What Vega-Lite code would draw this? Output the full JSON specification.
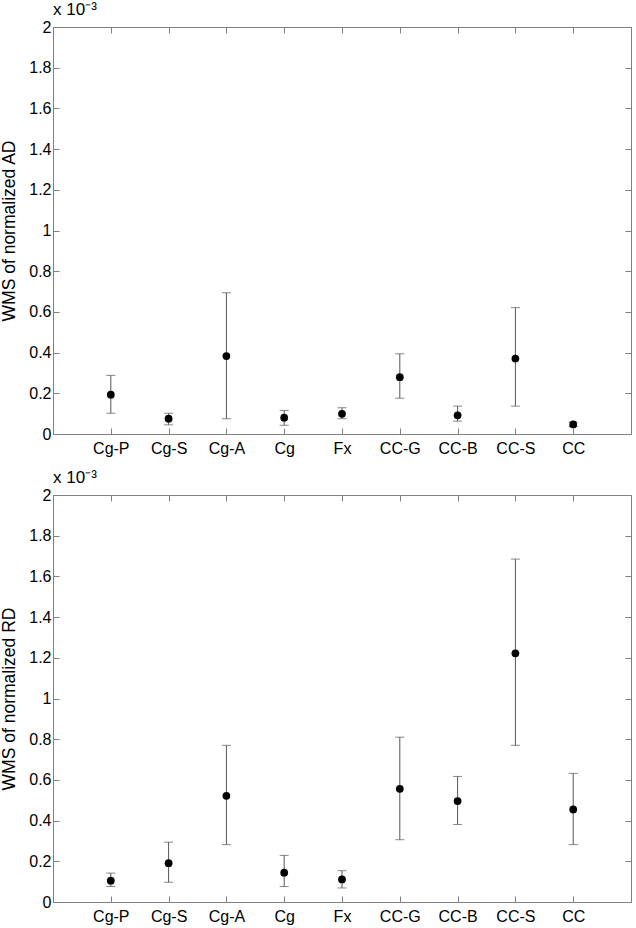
{
  "$schema": "https://vega.github.io/schema/vega-lite/v6.json",
  "background": "white",
  "padding": {"left": 0, "top": 0, "right": 2, "bottom": 2},
  "datasets": {
    "ad": [
      {"group": "Cg-P", "mean": 0.193, "lo": 0.102, "hi": 0.288},
      {"group": "Cg-S", "mean": 0.075, "lo": 0.045, "hi": 0.102},
      {"group": "Cg-A", "mean": 0.383, "lo": 0.075, "hi": 0.694},
      {"group": "Cg", "mean": 0.080, "lo": 0.043, "hi": 0.116},
      {"group": "Fx", "mean": 0.099, "lo": 0.075, "hi": 0.129},
      {"group": "CC-G", "mean": 0.279, "lo": 0.176, "hi": 0.394},
      {"group": "CC-B", "mean": 0.092, "lo": 0.063, "hi": 0.137},
      {"group": "CC-S", "mean": 0.371, "lo": 0.137, "hi": 0.621},
      {"group": "CC", "mean": 0.047, "lo": 0.037, "hi": 0.058}
    ],
    "rd": [
      {"group": "Cg-P", "mean": 0.105, "lo": 0.076, "hi": 0.142},
      {"group": "Cg-S", "mean": 0.191, "lo": 0.097, "hi": 0.294},
      {"group": "Cg-A", "mean": 0.522, "lo": 0.282, "hi": 0.770},
      {"group": "Cg", "mean": 0.144, "lo": 0.076, "hi": 0.229},
      {"group": "Fx", "mean": 0.111, "lo": 0.069, "hi": 0.154},
      {"group": "CC-G", "mean": 0.556, "lo": 0.306, "hi": 0.810},
      {"group": "CC-B", "mean": 0.496, "lo": 0.381, "hi": 0.617},
      {"group": "CC-S", "mean": 1.222, "lo": 0.770, "hi": 1.685},
      {"group": "CC", "mean": 0.455, "lo": 0.282, "hi": 0.632}
    ]
  },
  "vconcat": [
    {
      "width": 578, "height": 407,
      "data": {"name": "ad"},
      "title": {"text": "x 10⁻³", "anchor": "start", "frame": "group", "offset": 0},
      "layer": [
        {
          "mark": {"type": "rule", "color": "#555", "strokeWidth": 1},
          "encoding": {
            "x": {"field": "group", "type": "nominal", "sort": null, "scale": {"type": "point", "padding": 1},
                  "axis": {"orient": "bottom", "title": null, "labelAngle": 0, "tickSize": -6, "labelPadding": 12}},
            "y": {"field": "lo", "type": "quantitative", "scale": {"domain": [0, 2], "nice": false},
                  "axis": {"orient": "left", "title": "WMS of normalized AD", "values": [0, 0.2, 0.4, 0.6, 0.8, 1, 1.2, 1.4, 1.6, 1.8, 2], "format": "~g", "tickSize": -6, "labelPadding": 8, "titlePadding": 10}},
            "y2": {"field": "hi"}
          }
        },
        {
          "mark": {"type": "tick", "orient": "horizontal", "size": 9, "thickness": 1, "color": "#555"},
          "encoding": {
            "x": {"field": "group", "type": "nominal", "sort": null, "axis": null},
            "y": {"field": "lo", "type": "quantitative", "axis": null}
          }
        },
        {
          "mark": {"type": "tick", "orient": "horizontal", "size": 9, "thickness": 1, "color": "#555"},
          "encoding": {
            "x": {"field": "group", "type": "nominal", "sort": null, "axis": null},
            "y": {"field": "hi", "type": "quantitative", "axis": null}
          }
        },
        {
          "mark": {"type": "point", "filled": true, "size": 60, "color": "black", "opacity": 1},
          "encoding": {
            "x": {"field": "group", "type": "nominal", "sort": null,
                  "axis": {"orient": "top", "title": null, "labels": false, "domain": false, "tickSize": -6}},
            "y": {"field": "mean", "type": "quantitative",
                  "axis": {"orient": "right", "title": null, "labels": false, "domain": false, "tickSize": -6, "values": [0, 0.2, 0.4, 0.6, 0.8, 1, 1.2, 1.4, 1.6, 1.8, 2]}}
          }
        }
      ],
      "resolve": {"axis": {"x": "independent", "y": "independent"}}
    },
    {
      "width": 578, "height": 407,
      "data": {"name": "rd"},
      "title": {"text": "x 10⁻³", "anchor": "start", "frame": "group", "offset": 0},
      "layer": [
        {
          "mark": {"type": "rule", "color": "#555", "strokeWidth": 1},
          "encoding": {
            "x": {"field": "group", "type": "nominal", "sort": null, "scale": {"type": "point", "padding": 1},
                  "axis": {"orient": "bottom", "title": null, "labelAngle": 0, "tickSize": -6, "labelPadding": 12}},
            "y": {"field": "lo", "type": "quantitative", "scale": {"domain": [0, 2], "nice": false},
                  "axis": {"orient": "left", "title": "WMS of normalized RD", "values": [0, 0.2, 0.4, 0.6, 0.8, 1, 1.2, 1.4, 1.6, 1.8, 2], "format": "~g", "tickSize": -6, "labelPadding": 8, "titlePadding": 10}},
            "y2": {"field": "hi"}
          }
        },
        {
          "mark": {"type": "tick", "orient": "horizontal", "size": 9, "thickness": 1, "color": "#555"},
          "encoding": {
            "x": {"field": "group", "type": "nominal", "sort": null, "axis": null},
            "y": {"field": "lo", "type": "quantitative", "axis": null}
          }
        },
        {
          "mark": {"type": "tick", "orient": "horizontal", "size": 9, "thickness": 1, "color": "#555"},
          "encoding": {
            "x": {"field": "group", "type": "nominal", "sort": null, "axis": null},
            "y": {"field": "hi", "type": "quantitative", "axis": null}
          }
        },
        {
          "mark": {"type": "point", "filled": true, "size": 60, "color": "black", "opacity": 1},
          "encoding": {
            "x": {"field": "group", "type": "nominal", "sort": null,
                  "axis": {"orient": "top", "title": null, "labels": false, "domain": false, "tickSize": -6}},
            "y": {"field": "mean", "type": "quantitative",
                  "axis": {"orient": "right", "title": null, "labels": false, "domain": false, "tickSize": -6, "values": [0, 0.2, 0.4, 0.6, 0.8, 1, 1.2, 1.4, 1.6, 1.8, 2]}}
          }
        }
      ],
      "resolve": {"axis": {"x": "independent", "y": "independent"}}
    }
  ],
  "spacing": 61,
  "bounds": "flush",
  "config": {
    "font": "Liberation Sans",
    "view": {"stroke": "#808080", "strokeWidth": 1},
    "axis": {
      "grid": false,
      "domainColor": "#808080",
      "tickColor": "#808080",
      "labelColor": "black",
      "labelFont": "Liberation Sans",
      "labelFontSize": 16,
      "titleFont": "Liberation Sans",
      "titleFontSize": 17.5,
      "titleFontWeight": "normal",
      "titleColor": "black"
    },
    "title": {"font": "Liberation Sans", "fontSize": 17, "fontWeight": "normal", "color": "black"}
  }
}
